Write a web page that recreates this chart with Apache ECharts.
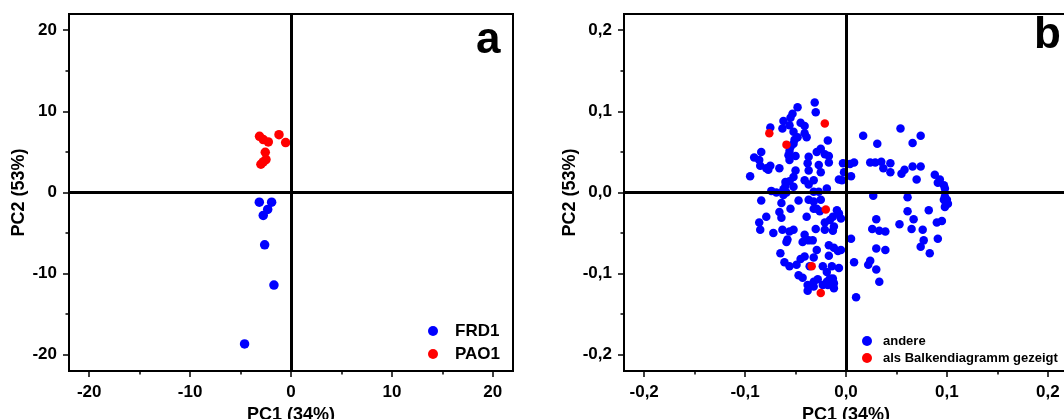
<!DOCTYPE html>
<html><head><meta charset="utf-8">
<script src="https://cdn.jsdelivr.net/npm/echarts@6/dist/echarts.min.js"></script>
<style>html,body{margin:0;padding:0;background:#fff}#c{width:1064px;height:419px}</style>
</head><body><div id="c"></div>
<script>
// Panel a
const ticksA = [-20, -10, 0, 10, 20];
const minorA = [-15, -5, 5, 15];
const frd1 = [[-3.14,-1.19],[-1.92,-1.19],[-2.31,-2.09],[-2.75,-2.83],[-2.61,-6.45],[-1.69,-11.41],[-4.60,-18.67]];
const pao1 = [[-3.12,6.93],[-2.75,6.52],[-2.25,6.23],[-1.19,7.13],[-0.53,6.15],[-2.55,4.96],[-2.48,4.06],[-2.75,3.77],[-2.98,3.48]];
// Panel b
const ticksB = [-0.2, -0.1, 0, 0.1, 0.2];
const minorB = [-0.15, -0.05, 0.05, 0.15];
const andere = [[-0.031,0.111],[-0.030,0.099],[-0.048,0.105],[-0.053,0.097],[-0.055,0.092],[-0.062,0.088],[-0.063,0.079],[-0.075,0.080],[-0.056,0.083],[-0.045,0.086],[-0.041,0.082],[-0.052,0.075],[-0.048,0.068],[-0.051,0.065],[-0.039,0.068],[-0.041,0.073],[-0.018,0.064],[-0.052,0.060],[-0.055,0.056],[-0.056,0.051],[-0.057,0.046],[-0.050,0.045],[-0.056,0.040],[-0.037,0.044],[-0.038,0.036],[-0.029,0.050],[-0.025,0.054],[-0.021,0.047],[-0.017,0.045],[-0.017,0.037],[-0.027,0.034],[-0.025,0.025],[-0.037,0.027],[-0.041,0.015],[-0.037,0.010],[-0.050,0.027],[-0.052,0.019],[-0.056,0.014],[-0.060,0.013],[-0.060,0.008],[-0.062,0.004],[-0.059,0.000],[-0.066,0.030],[-0.075,0.033],[-0.079,0.030],[-0.085,0.033],[-0.091,0.043],[-0.084,0.050],[-0.086,0.040],[-0.095,0.020],[-0.077,0.028],[-0.003,0.036],[-0.002,0.025],[-0.004,0.015],[-0.007,0.016],[0.008,0.037],[0.005,0.020],[0.017,0.070],[0.031,0.060],[0.054,0.079],[0.074,0.070],[0.066,0.061],[0.024,0.037],[0.029,0.037],[0.035,0.038],[0.044,0.036],[0.037,0.030],[0.044,0.025],[0.055,0.023],[0.058,0.028],[0.066,0.032],[0.074,0.032],[0.070,0.016],[0.088,0.022],[0.093,0.016],[0.097,0.009],[0.098,0.005],[0.091,0.012],[0.098,-0.005],[0.100,-0.009],[0.099,-0.014],[0.098,-0.018],[0.101,-0.014],[0.097,-0.009],[0.027,-0.004],[0.061,-0.006],[0.061,-0.023],[0.067,-0.033],[0.065,-0.045],[0.053,-0.039],[0.082,-0.022],[0.090,-0.037],[0.095,-0.035],[0.076,-0.046],[0.077,-0.059],[0.074,-0.067],[0.091,-0.057],[0.083,-0.075],[0.030,-0.033],[0.026,-0.045],[0.033,-0.047],[0.039,-0.048],[0.039,-0.071],[0.030,-0.069],[0.005,-0.057],[0.024,-0.084],[0.022,-0.089],[0.030,-0.095],[0.033,-0.110],[0.008,-0.086],[0.010,-0.129],[-0.074,0.002],[-0.069,0.000],[-0.062,-0.003],[-0.064,-0.013],[-0.055,-0.020],[-0.084,-0.010],[-0.079,-0.030],[-0.086,-0.037],[-0.085,-0.046],[-0.066,-0.024],[-0.064,-0.031],[-0.072,-0.050],[-0.063,-0.046],[-0.056,-0.048],[-0.052,-0.046],[-0.058,-0.058],[-0.059,-0.061],[-0.065,-0.075],[-0.061,-0.086],[-0.056,-0.091],[-0.049,-0.089],[-0.047,-0.102],[-0.043,-0.105],[-0.045,-0.082],[-0.041,-0.079],[-0.032,-0.080],[-0.036,-0.091],[-0.029,-0.071],[-0.041,-0.052],[-0.037,-0.059],[-0.033,-0.059],[-0.043,-0.061],[-0.039,-0.030],[-0.037,-0.009],[-0.032,-0.011],[-0.032,-0.020],[-0.029,-0.020],[-0.025,-0.009],[-0.027,0.001],[-0.019,0.005],[-0.026,-0.023],[-0.030,-0.045],[-0.021,-0.046],[-0.021,-0.037],[-0.016,-0.034],[-0.013,-0.030],[-0.009,-0.022],[-0.007,-0.026],[-0.005,-0.032],[-0.012,-0.042],[-0.013,-0.047],[-0.017,-0.065],[-0.012,-0.068],[-0.005,-0.071],[-0.008,-0.072],[-0.017,-0.078],[-0.023,-0.091],[-0.019,-0.098],[-0.014,-0.091],[-0.007,-0.093],[-0.013,-0.106],[-0.019,-0.110],[-0.023,-0.114],[-0.028,-0.107],[-0.032,-0.110],[-0.038,-0.114],[-0.038,-0.121],[-0.032,-0.116],[-0.018,-0.114],[-0.012,-0.118],[-0.012,-0.112],[-0.016,-0.106],[-0.032,0.001],[-0.047,-0.010],[-0.052,0.007],[-0.032,0.015],[0.004,0.035]];
const balken = [[-0.076,0.073],[-0.059,0.059],[-0.021,0.085],[-0.020,-0.021],[-0.034,-0.091],[-0.025,-0.124]];

const FONT = '"Liberation Sans", Arial, sans-serif';
const fmtB = v => (Math.abs(v) < 1e-9 ? '0,0' : v.toFixed(1).replace('.', ','));
const fmtA = v => String(Math.round(v));

function mainAxis(grid, pos, lim, ticks, fmt, name, nameGap, margin) {
  return {
    type: 'value', gridIndex: grid, position: pos, min: -lim, max: lim,
    splitLine: { show: false },
    axisLine: { show: true, onZero: false, lineStyle: { color: '#000', width: 2 } },
    axisTick: { show: true, inside: false, length: 6, lineStyle: { color: '#000', width: 1.5 }, customValues: ticks },
    axisLabel: { show: true, customValues: ticks, formatter: fmt, color: '#000', fontFamily: FONT, fontWeight: 'bold', fontSize: 17, margin: margin },
    name: name, nameLocation: 'middle', nameGap: nameGap,
    nameTextStyle: { color: '#000', fontFamily: FONT, fontWeight: 'bold', fontSize: 18 }
  };
}
function minorAxis(grid, pos, lim, ticks) {
  return {
    type: 'value', gridIndex: grid, position: pos, min: -lim, max: lim,
    splitLine: { show: false },
    axisLine: { show: false, onZero: false },
    axisTick: { show: true, inside: false, length: 3.5, lineStyle: { color: '#000', width: 1.5 }, customValues: ticks },
    axisLabel: { show: false }
  };
}
const zeroLines = {
  silent: true, symbol: 'none', animation: false,
  label: { show: false },
  lineStyle: { color: '#000', width: 3, type: 'solid' },
  emphasis: { disabled: true },
  data: [{ xAxis: 0 }, { yAxis: 0 }]
};

const chart = echarts.init(document.getElementById('c'), null, { renderer: 'canvas' });
chart.setOption({
  animation: false,
  backgroundColor: '#fff',
  grid: [
    { left: 69, top: 14, width: 444, height: 357, show: true, borderColor: '#000', borderWidth: 2, containLabel: false, outerBoundsMode: 'none' },
    { left: 624, top: 14, width: 444, height: 357, show: true, borderColor: '#000', borderWidth: 2, containLabel: false, outerBoundsMode: 'none' }
  ],
  xAxis: [
    mainAxis(0, 'bottom', 22, ticksA, fmtA, 'PC1 (34%)', 30, 13),
    minorAxis(0, 'bottom', 22, minorA),
    mainAxis(1, 'bottom', 0.22, ticksB, fmtB, 'PC1 (34%)', 30, 13),
    minorAxis(1, 'bottom', 0.22, minorB)
  ],
  yAxis: [
    mainAxis(0, 'left', 22, ticksA, fmtA, 'PC2 (53%)', 37, 12),
    minorAxis(0, 'left', 22, minorA),
    mainAxis(1, 'left', 0.22, ticksB, fmtB, 'PC2 (53%)', 38, 12),
    minorAxis(1, 'left', 0.22, minorB)
  ],
  legend: [
    { data: ['FRD1', 'PAO1'], orient: 'vertical', left: 423, top: 317, icon: 'circle',
      itemWidth: 10, itemHeight: 10, itemGap: 5,
      textStyle: { color: '#000', fontFamily: FONT, fontWeight: 'bold', fontSize: 17, lineHeight: 18, padding: [0, 0, 0, 12] } },
    { data: ['andere', 'als Balkendiagramm gezeigt'], orient: 'vertical', left: 857, top: 329, icon: 'circle',
      itemWidth: 10, itemHeight: 10, itemGap: 3,
      textStyle: { color: '#000', fontFamily: FONT, fontWeight: 'bold', fontSize: 13, lineHeight: 14, padding: [0, 0, 0, 6] } }
  ],
  graphic: [
    { type: 'text', left: 476, top: 19, z: 100, style: { text: 'a', fill: '#000', font: 'bold 44px "Liberation Sans", Arial, sans-serif' } },
    { type: 'text', left: 1034, top: 14, z: 100, style: { text: 'b', fill: '#000', font: 'bold 44px "Liberation Sans", Arial, sans-serif' } }
  ],
  series: [
    { name: 'FRD1', type: 'scatter', xAxisIndex: 0, yAxisIndex: 0, symbol: 'circle', symbolSize: 9.5,
      itemStyle: { color: '#0000ff', opacity: 1 }, data: frd1, markLine: zeroLines },
    { name: 'PAO1', type: 'scatter', xAxisIndex: 0, yAxisIndex: 0, symbol: 'circle', symbolSize: 9.5,
      itemStyle: { color: '#ff0000', opacity: 1 }, data: pao1 },
    { name: 'andere', type: 'scatter', xAxisIndex: 2, yAxisIndex: 2, symbol: 'circle', symbolSize: 8.5,
      itemStyle: { color: '#0000ff', opacity: 1 }, data: andere, markLine: zeroLines },
    { name: 'als Balkendiagramm gezeigt', type: 'scatter', xAxisIndex: 2, yAxisIndex: 2, symbol: 'circle', symbolSize: 8.5,
      itemStyle: { color: '#ff0000', opacity: 1 }, data: balken }
  ]
});
</script></body></html>
